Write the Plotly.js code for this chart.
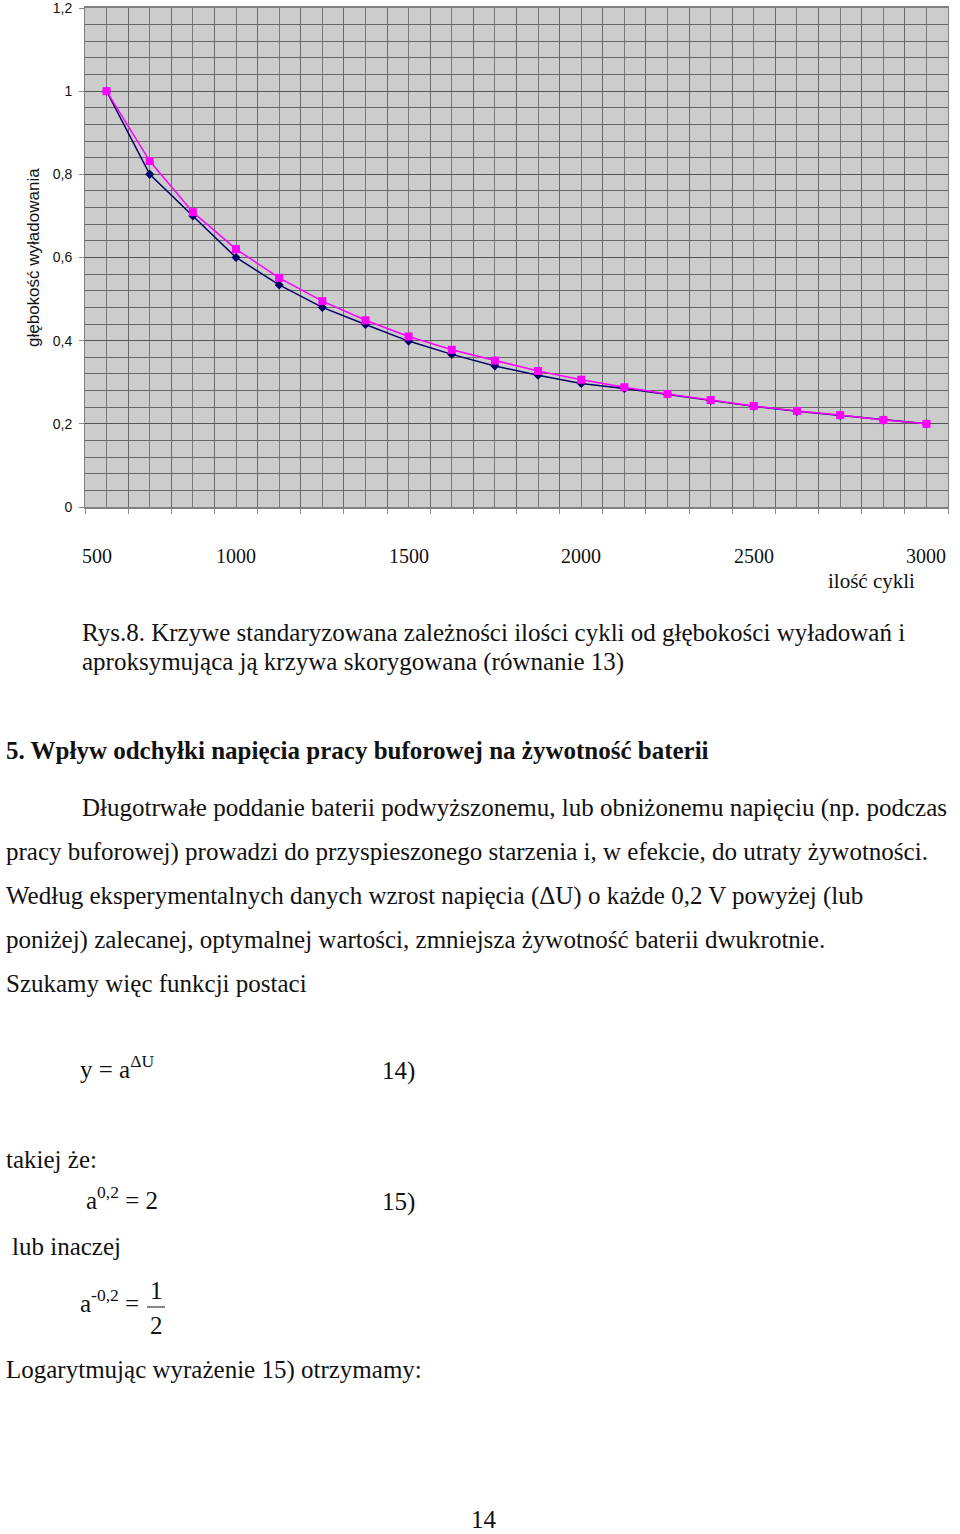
<!DOCTYPE html>
<html>
<head>
<meta charset="utf-8">
<script src="https://cdn.plot.ly/plotly-3.0.1.min.js"></script>
<style>html,body{margin:0;padding:0;background:#fff;}#chart{width:960px;height:1534px;}</style>
</head>
<body>
<div id="chart"></div>
<script>
// ---- data ----
const cycles = [625, 750, 875, 1000, 1125, 1250, 1375, 1500, 1625, 1750, 1875, 2000, 2125, 2250, 2375, 2500, 2625, 2750, 2875, 3000];
const standardized = [1.0, 0.800, 0.700, 0.600, 0.534, 0.480, 0.439, 0.399, 0.367, 0.339, 0.317, 0.297, 0.285, 0.271, 0.256, 0.242, 0.230, 0.220, 0.209, 0.200];
const corrected = [1.0, 0.832, 0.709, 0.620, 0.551, 0.495, 0.449, 0.410, 0.378, 0.352, 0.327, 0.306, 0.288, 0.272, 0.257, 0.243, 0.231, 0.221, 0.209, 0.200];
const xTickLabels = ['500', '1000', '1500', '2000', '2500', '3000'];
const yTitle = 'głębokość wyładowania';
const xTitle = 'ilość cykli';

// ---- layout helpers (pixel -> paper) ----
const L = 85, R = 948, T = 8, B = 507;
const W = 960, H = 1534;
const px = x => (x - L) / (R - L);
const py = y => (B - y) / (B - T);

const serif = 'Liberation Serif, Times New Roman, serif';
const sans = 'Liberation Sans, Arial, sans-serif';
const txtColor = '#111';
const bodySize = 25;

const traces = [
  {
    x: cycles, y: standardized, type: 'scatter', mode: 'lines+markers',
    line: {color: '#000066', width: 1.5},
    marker: {symbol: 'diamond', size: 7, color: '#000066'},
    showlegend: false, hoverinfo: 'skip'
  },
  {
    x: cycles, y: corrected, type: 'scatter', mode: 'lines+markers',
    line: {color: '#ff00ff', width: 1.5},
    marker: {symbol: 'square', size: 8, color: '#ff00ff'},
    showlegend: false, hoverinfo: 'skip'
  }
];

const ann = [];
function addText(text, x, y, opts) {
  ann.push(Object.assign({
    text: text, xref: 'paper', yref: 'paper', x: px(x), y: py(y),
    xanchor: 'left', yanchor: 'middle', showarrow: false,
    font: {family: serif, size: bodySize, color: txtColor}
  }, opts || {}));
}

// x tick labels below chart
xTickLabels.forEach((t, i) => {
  ann.push({
    text: t, xref: i === 0 ? 'paper' : 'x', yref: 'paper',
    x: i === 0 ? px(80) : Number(t), y: py(556),
    xanchor: i === 0 ? 'left' : 'center', yanchor: 'middle', showarrow: false,
    font: {family: serif, size: 20, color: txtColor}
  });
});
addText(xTitle, 917, 581, {xanchor: 'right', font: {family: serif, size: 21, color: txtColor}});

// y axis title
ann.push({
  text: yTitle, xref: 'paper', yref: 'paper', x: px(33), y: py(258),
  xanchor: 'center', yanchor: 'middle', textangle: -90, showarrow: false,
  font: {family: sans, size: 17, color: txtColor}
});

// document text
addText('Rys.8. Krzywe standaryzowana zależności ilości cykli od głębokości wyładowań i', 80, 632);
addText('aproksymująca ją krzywa skorygowana (równanie 13)', 80, 662);
addText('<b>5. Wpływ odchyłki napięcia pracy buforowej na żywotność baterii</b>', 4, 750);
addText('Długotrwałe poddanie baterii podwyższonemu, lub obniżonemu napięciu (np. podczas', 80, 808);
addText('pracy buforowej) prowadzi do przyspieszonego starzenia i, w efekcie, do utraty żywotności.', 4, 852);
addText('Według eksperymentalnych danych wzrost napięcia (ΔU) o każde 0,2 V powyżej (lub', 4, 896);
addText('poniżej) zalecanej, optymalnej wartości, zmniejsza żywotność baterii dwukrotnie.', 4, 940);
addText('Szukamy więc funkcji postaci', 4, 983);
addText('y = a<sup>ΔU</sup>', 78, 1067);
addText('14)', 380, 1071);
addText('takiej że:', 4, 1159);
addText('a<sup>0,2</sup> = 2', 84, 1198);
addText('15)', 380, 1202);
addText('lub inaczej', 10, 1246);
addText('a<sup>-0,2</sup> =', 78, 1301);
addText('1', 156, 1290, {xanchor: 'center'});
addText('2', 156, 1326, {xanchor: 'center'});
addText('Logarytmując wyrażenie 15) otrzymamy:', 4, 1370);
addText('14', 484, 1519, {xanchor: 'center'});

const shapes = [
  {type: 'line', xref: 'paper', yref: 'paper', x0: px(147), x1: px(165), y0: py(1307), y1: py(1307),
   line: {color: txtColor, width: 1}}
];

const layout = {
  width: W, height: H,
  margin: {l: L, r: W - R, t: T, b: H - B, pad: 0},
  paper_bgcolor: '#ffffff',
  plot_bgcolor: '#cccccc',
  separators: ', ',
  showlegend: false,
  xaxis: {
    range: [562.5, 3062.5], tick0: 562.5, dtick: 125,
    showgrid: true, gridcolor: '#6a6a6a', gridwidth: 1,
    minor: {dtick: 62.5, tick0: 562.5, showgrid: true, gridcolor: '#7a7a7a', gridwidth: 1},
    ticks: 'outside', ticklen: 5, tickcolor: '#888', showticklabels: false,
    showline: true, linecolor: '#808080', linewidth: 2, mirror: true,
    zeroline: false, fixedrange: true
  },
  yaxis: {
    range: [0, 1.2], tick0: 0, dtick: 0.2,
    showgrid: true, gridcolor: '#555', gridwidth: 1,
    minor: {dtick: 0.04, tick0: 0, showgrid: true, gridcolor: '#666', gridwidth: 1},
    ticks: 'outside', ticklen: 5, tickcolor: '#888',
    ticklabelstandoff: 4, ticklabeloverflow: 'allow',
    tickfont: {family: sans, size: 14, color: '#111'},
    showline: true, linecolor: '#808080', linewidth: 1, mirror: true,
    zeroline: false, fixedrange: true
  },
  annotations: ann,
  shapes: shapes
};

Plotly.newPlot('chart', traces, layout, {staticPlot: true, displayModeBar: false});
</script>
</body>
</html>
